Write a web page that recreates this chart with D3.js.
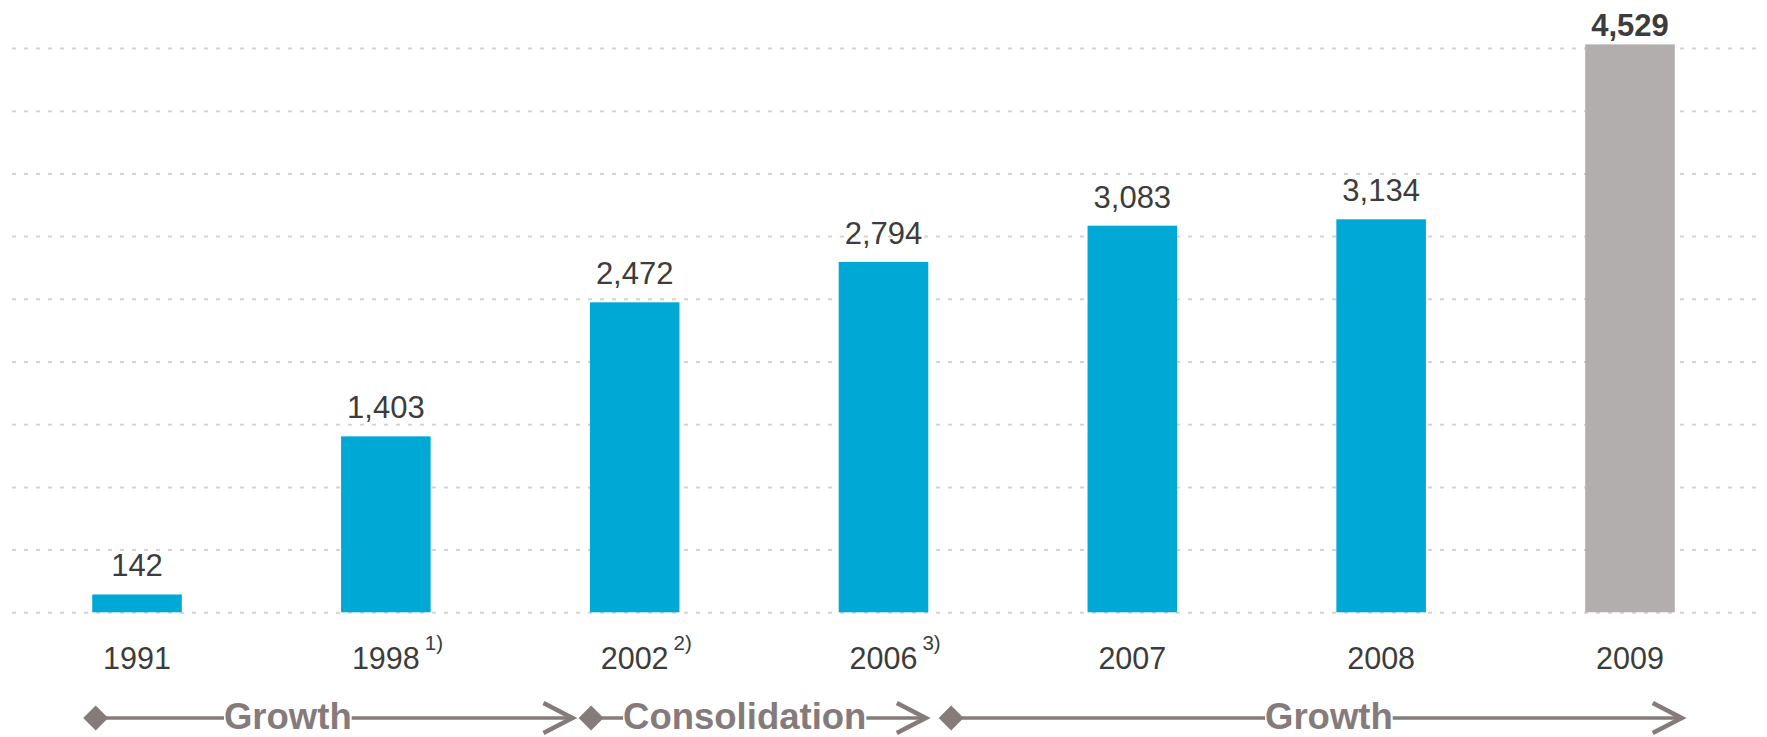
<!DOCTYPE html>
<html>
<head>
<meta charset="utf-8">
<script src="https://cdn.jsdelivr.net/npm/d3@7"></script>
<style>
  html, body { margin: 0; padding: 0; background: #ffffff; }
  svg { display: block; }
  text { font-family: "Liberation Sans", Arial, Helvetica, sans-serif; }
</style>
</head>
<body>
<svg id="chart" width="1767" height="737"></svg>
<script>
// Years shown on the category axis, with their footnote markers
const years = ["1991", "1998", "2002", "2006", "2007", "2008", "2009"];
const footnotes = ["", "1)", "2)", "3)", "", "", ""];
// Values per year
const values = [142, 1403, 2472, 2794, 3083, 3134, 4529];
// Label text for each bar
const valueLabels = ["142", "1,403", "2,472", "2,794", "3,083", "3,134", "4,529"];
// Which bar is highlighted (drawn in grey with a bold label)
const highlighted = [false, false, false, false, false, false, true];
// Phases shown beneath the axis
const phaseLabels = ["Growth", "Consolidation", "Growth"];
const phaseFrom = ["1991", "2002", "2006"];
const phaseTo = ["2002", "2006", "2009"];

const svg = d3.select("#chart");

const x = d3.scaleBand()
  .domain(years)
  .range([12.6, 1754.4])
  .paddingInner(0.64)
  .paddingOuter(0.32);

const y = d3.scaleLinear()
  .domain([0, 4500])
  .range([612.3, 48]);

const BLUE = "#00a8d6";
const GREY_BAR = "#b3aeae";
const TEXT = "#3c3c3c";
const ARROW = "#857b7a";

// Dashed horizontal gridlines, including the baseline
const grid = d3.axisLeft(y)
  .tickValues(d3.range(0, 4501, 500))
  .tickSize(-(1756 - 12))
  .tickFormat("");
const gridG = svg.append("g")
  .attr("transform", "translate(12,0)")
  .call(grid);
gridG.select(".domain").remove();
gridG.selectAll(".tick line")
  .attr("stroke", "#d8d3d0")
  .attr("stroke-width", 2)
  .attr("stroke-dasharray", "4 8");

// Bars
svg.append("g")
  .selectAll("rect")
  .data(years)
  .join("rect")
  .attr("x", d => x(d))
  .attr("width", x.bandwidth())
  .attr("y", (d, i) => y(values[i]))
  .attr("height", (d, i) => y(0) - y(values[i]))
  .attr("fill", (d, i) => highlighted[i] ? GREY_BAR : BLUE);

// Value labels above bars
svg.append("g")
  .selectAll("text")
  .data(years)
  .join("text")
  .attr("x", d => x(d) + x.bandwidth() / 2)
  .attr("y", (d, i) => y(values[i]) - (highlighted[i] ? 8 : 18))
  .attr("text-anchor", "middle")
  .attr("font-size", 31)
  .attr("font-weight", (d, i) => highlighted[i] ? "bold" : "normal")
  .attr("fill", TEXT)
  .text((d, i) => valueLabels[i]);

// Year labels with superscript footnote markers
const yearG = svg.append("g");
years.forEach((yr, i) => {
  const cx = x(yr) + x.bandwidth() / 2;
  const t = yearG.append("text")
    .attr("x", cx)
    .attr("y", 669)
    .attr("text-anchor", "middle")
    .attr("font-size", 30.5)
    .attr("fill", TEXT)
    .text(yr);
  if (footnotes[i]) {
    const w = t.node().getComputedTextLength();
    yearG.append("text")
      .attr("x", cx + w / 2 + 5)
      .attr("y", 650)
      .attr("font-size", 20.5)
      .attr("fill", TEXT)
      .text(footnotes[i]);
  }
});

// Phase arrows: diamond tail, labelled shaft, open arrowhead
const step = x.step();
const center = yr => x(yr) + x.bandwidth() / 2;
const startShift = [-0.166, -0.175, 0.272];
const endShift = [-0.25, 0.17, 0.208];
const labelPos = [0.403, 0.459, 0.517];
const lineY = 718;

const phaseG = svg.append("g");
phaseLabels.forEach((lab, i) => {
  const x0 = center(phaseFrom[i]) + startShift[i] * step;
  const x1 = center(phaseTo[i]) + endShift[i] * step;
  const tx = x0 + (x1 - x0) * labelPos[i];
  const g = phaseG.append("g");
  const t = g.append("text")
    .attr("x", tx)
    .attr("y", 729)
    .attr("text-anchor", "middle")
    .attr("font-size", 36.5)
    .attr("font-weight", "bold")
    .attr("fill", ARROW)
    .text(lab);
  const tw = t.node().getComputedTextLength();
  const d = 12.5;
  g.insert("path", "text")
    .attr("d", `M${x0 - d},${lineY} L${x0},${lineY - d} L${x0 + d},${lineY} L${x0},${lineY + d} Z`)
    .attr("fill", ARROW);
  g.insert("line", "text")
    .attr("x1", x0).attr("x2", tx - tw / 2)
    .attr("y1", lineY).attr("y2", lineY)
    .attr("stroke", ARROW).attr("stroke-width", 3.5);
  g.insert("line", "text")
    .attr("x1", tx + tw / 2).attr("x2", x1 - 2)
    .attr("y1", lineY).attr("y2", lineY)
    .attr("stroke", ARROW).attr("stroke-width", 3.5);
  g.append("path")
    .attr("d", `M${x1 - 29},${lineY - 15} L${x1},${lineY} L${x1 - 29},${lineY + 15}`)
    .attr("fill", "none")
    .attr("stroke", ARROW)
    .attr("stroke-width", 4.5)
    .attr("stroke-linejoin", "miter");
});
</script>
</body>
</html>
